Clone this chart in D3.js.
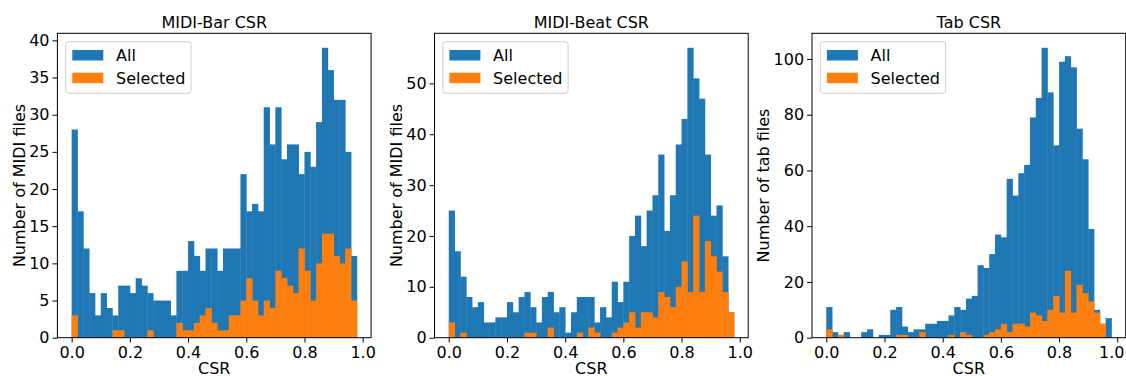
<!DOCTYPE html>
<html>
<head>
<meta charset="utf-8">
<script src="https://cdn.jsdelivr.net/npm/d3@7"></script>
<style>
  body { margin: 0; background: #fff; }
  text { font-family: "DejaVu Sans", sans-serif; fill: #000; }
</style>
</head>
<body>
<svg id="chart" width="1126" height="376"></svg>
<script>
// histogram counts, bins of width 0.02 starting at 0.0 (49 bins)
const binWidth = 0.02;

const barAll = [28, 17, 12, 6, 3, 6, 4, 3, 7, 7, 6, 8, 7, 6, 5, 5, 5, 3,
  9, 9, 13, 11, 9, 12, 12, 9, 12, 12, 12, 22, 17, 18, 17, 31, 26, 31, 24, 26, 26,
  22, 25, 23, 29, 39, 36, 32, 32, 25, 11];
const barSelected = [3, 0, 0, 0, 0, 0, 0, 1, 1, 0, 0, 0, 0, 1, 0, 0, 0, 0,
  2, 1, 1, 2, 3, 4, 2, 1, 1, 3, 3, 5, 8, 5, 3, 5,
  4, 9, 8, 7, 6, 12, 9, 5, 10, 14, 14, 11, 10, 12, 5];

const beatAll = [25, 17, 12, 8, 6, 7, 3, 3, 4, 4, 7, 5, 8, 9, 6, 3, 8, 9, 5, 6, 1, 5, 8, 8, 8,
  3, 6, 4, 11, 7, 11, 20, 24, 18, 25, 28, 36, 21, 28, 38, 43, 57, 51, 47, 36, 24, 26, 16, 5];
const beatSelected = [3, 0, 1, 0, 0, 0, 0, 0, 0, 0, 0, 0, 0, 1, 1, 0, 0, 2, 0, 0, 0, 0, 1, 0, 2, 1,
  0, 0, 1, 2, 3, 5, 2, 5, 5, 4, 9, 8, 6, 10, 15, 9, 24, 9, 19, 16, 13, 9, 5];

const tabAll = [11, 2, 1, 2, 0, 0, 2, 3, 0, 1, 1, 10, 11, 4, 2, 3, 3, 5, 5, 6,
  6, 8, 11, 10, 14, 15, 26, 25, 30, 37, 36, 57, 51, 59, 62, 79, 86, 104, 88, 69,
  99, 101, 97, 75, 64, 39, 10, 5, 7];
const tabSelected = [3, 0, 1, 0, 0, 0, 0, 0, 0, 0, 0, 0, 1, 1, 0, 0, 2, 0, 0, 0,
  0, 1, 0, 2, 1, 0, 0, 1, 2, 3, 5, 2, 5, 5, 4, 9, 8, 6, 10, 15,
  9, 24, 9, 19, 16, 13, 9, 5, 0];

const titles = ['MIDI-Bar CSR', 'MIDI-Beat CSR', 'Tab CSR'];
const yLabels = ['Number of MIDI files', 'Number of MIDI files', 'Number of tab files'];
const xTicks = [0, 0.2, 0.4, 0.6, 0.8, 1.0];
const yTicksBar = [0, 5, 10, 15, 20, 25, 30, 35, 40];
const yTicksBeat = [0, 10, 20, 30, 40, 50];
const yTicksTab = [0, 20, 40, 60, 80, 100];
const legendLabels = ['All', 'Selected'];

const blue = '#1f77b4', orange = '#ff7f0e';

const panels = [
  { title: titles[0], ylabel: yLabels[0], all: barAll, sel: barSelected, ticks: yTicksBar },
  { title: titles[1], ylabel: yLabels[1], all: beatAll, sel: beatSelected, ticks: yTicksBeat },
  { title: titles[2], ylabel: yLabels[2], all: tabAll, sel: tabSelected, ticks: yTicksTab }
];

const W = 1126;
const svg = d3.select('#chart');
const lefts = [57.4, 434.5, 812];
const pw = 313.7;
const plotTop = 33.3, plotBottom = 337.7;
const fs = 16;

panels.forEach((p, i) => {
  const left = lefts[i];
  const x = d3.scaleLinear().domain([-0.049, 1.029]).range([left, left + pw]);
  const y = d3.scaleLinear().domain([0, d3.max(p.all) * 1.05]).range([plotBottom, plotTop]);
  const g = svg.append('g');
  const bw = x(binWidth) - x(0);

  g.append('g').selectAll('rect')
    .data(p.all)
    .join('rect')
    .attr('x', (d, j) => x(j * binWidth))
    .attr('width', bw + 0.4)
    .attr('y', d => y(d))
    .attr('height', d => y(0) - y(d))
    .attr('fill', blue);

  g.append('g').selectAll('rect')
    .data(p.sel)
    .join('rect')
    .attr('x', (d, j) => x(j * binWidth))
    .attr('width', bw + 0.4)
    .attr('y', d => y(d))
    .attr('height', d => y(0) - y(d))
    .attr('fill', orange);

  // axes
  const xAxis = d3.axisBottom(x).tickValues(xTicks).tickFormat(d3.format('.1f'))
    .tickSize(4.9).tickSizeOuter(0).tickPadding(4);
  const gx = g.append('g').attr('transform', `translate(0,${plotBottom})`).call(xAxis);

  const yAxis = d3.axisLeft(y).tickValues(p.ticks).tickSize(4.9).tickSizeOuter(0).tickPadding(3);
  const gy = g.append('g').attr('transform', `translate(${left},0)`).call(yAxis);

  [gx, gy].forEach(a => {
    a.select('.domain').remove();
    a.attr('font-size', null).attr('font-family', null);
    a.selectAll('text').style('font-size', fs + 'px').attr('fill', '#000');
    a.selectAll('line').attr('stroke', '#000').attr('stroke-width', 1);
  });

  // keep the last tick label inside the picture
  gx.selectAll('.tick').each(function () {
    const t = d3.select(this).select('text');
    const b = this.getBoundingClientRect();
    if (b.right > W - 1) t.attr('dx', -(b.right - W + 1.5));
  });

  // frame
  g.append('rect')
    .attr('x', left).attr('y', plotTop)
    .attr('width', pw).attr('height', plotBottom - plotTop)
    .attr('fill', 'none').attr('stroke', '#000').attr('stroke-width', 1);

  // title and labels
  g.append('text')
    .attr('x', left + pw / 2).attr('y', 28)
    .attr('text-anchor', 'middle')
    .style('font-size', fs + 'px')
    .text(p.title);

  g.append('text')
    .attr('x', left + pw / 2).attr('y', 373.5)
    .attr('text-anchor', 'middle')
    .style('font-size', fs + 'px')
    .text('CSR');

  let tickW = 0;
  gy.selectAll('text').each(function () { tickW = Math.max(tickW, this.getComputedTextLength()); });
  const lx = left - 7.9 - tickW - 4.6;
  g.append('text')
    .attr('transform', `translate(${lx},${(plotTop + plotBottom) / 2}) rotate(-90)`)
    .attr('text-anchor', 'middle')
    .style('font-size', fs + 'px')
    .text(p.ylabel);

  // legend
  const lg = g.append('g').attr('transform', `translate(${left + 8.3},${plotTop + 8.4})`);
  lg.append('rect')
    .attr('width', 125.3).attr('height', 51.6).attr('rx', 3)
    .attr('fill', '#fff').attr('fill-opacity', 0.8)
    .attr('stroke', '#cccccc').attr('stroke-width', 1);
  legendLabels.forEach((lab, k) => {
    lg.append('rect')
      .attr('x', 6.6).attr('y', 8.3 + k * 22.7)
      .attr('width', 31).attr('height', 10.5)
      .attr('fill', k === 0 ? blue : orange);
    lg.append('text')
      .attr('x', 50.3).attr('y', 19.3 + k * 22.7)
      .style('font-size', fs + 'px')
      .text(lab);
  });
});
</script>
</body>
</html>
